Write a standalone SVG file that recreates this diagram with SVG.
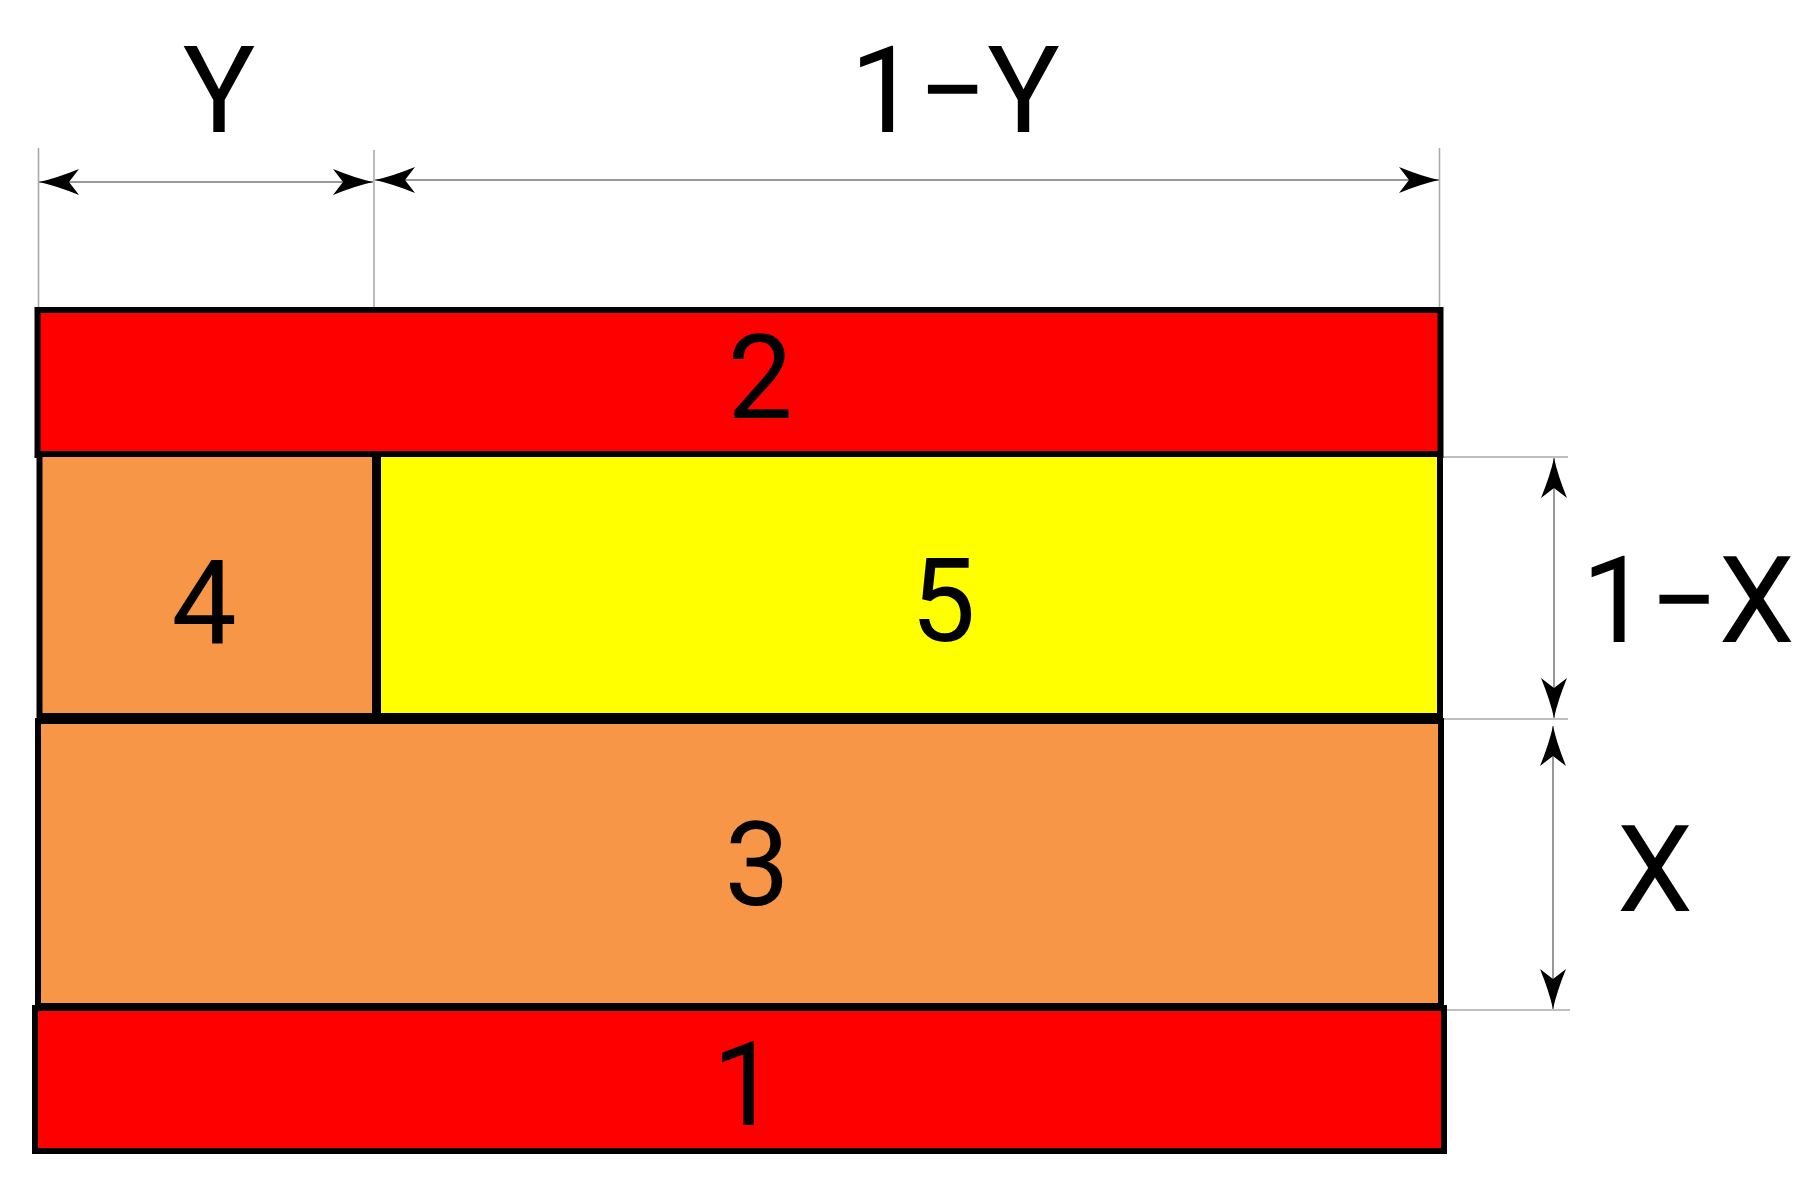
<svg xmlns="http://www.w3.org/2000/svg" width="1819" height="1193" viewBox="0 0 1819 1193">
<defs>
<style>
.blk{stroke:#000;stroke-width:6}
.red{fill:#fe0000}
.org{fill:#f79646}
.yel{fill:#ffff00}
.dim{stroke:#999;stroke-width:2;fill:none}
.ext{stroke:#aaa;stroke-width:1.6;fill:none}
.lbl{font-family:Roboto,"Liberation Sans",sans-serif;fill:#000;text-anchor:middle}
.num{font-size:116px}
.big{font-size:121px}
</style>
<marker id="ah" viewBox="0 0 40 28" refX="40" refY="14" markerWidth="40" markerHeight="28" markerUnits="userSpaceOnUse" orient="auto-start-reverse">
<path d="M0,1 Q22,10 40,14 Q22,18 0,27 L10,14 Z" fill="#000"/>
</marker>
</defs>
<rect width="1819" height="1193" fill="#fff"/>
<g id="connectors">
<line class="ext" x1="38.5" y1="148" x2="38.5" y2="308"/>
<line class="ext" x1="374" y1="150" x2="374" y2="308"/>
<line class="ext" x1="1439.5" y1="148" x2="1439.5" y2="308"/>
<line class="ext" x1="1443" y1="457" x2="1568" y2="457"/>
<line class="ext" x1="1443" y1="719" x2="1568" y2="719"/>
<line class="ext" x1="1446" y1="1010" x2="1570" y2="1010"/>
<line class="dim" x1="39" y1="182" x2="373" y2="182" marker-start="url(#ah)" marker-end="url(#ah)"/>
<line class="dim" x1="375" y1="180" x2="1439" y2="180" marker-start="url(#ah)" marker-end="url(#ah)"/>
<line class="dim" x1="1554" y1="458" x2="1554" y2="718" marker-start="url(#ah)" marker-end="url(#ah)"/>
<line class="dim" x1="1553" y1="726" x2="1553" y2="1009" marker-start="url(#ah)" marker-end="url(#ah)"/>
</g>
<g id="node-2">
<rect class="red blk" x="37.5" y="310" width="1403" height="145"/>
<text class="lbl num" x="760" y="418">2</text>
</g>
<g id="node-4">
<rect class="org blk" x="39.5" y="454" width="335.5" height="262"/>
<text class="lbl num" x="204" y="643">4</text>
</g>
<g id="node-5">
<rect class="yel blk" x="378" y="454" width="1062" height="262"/>
<text class="lbl num" x="943" y="641">5</text>
</g>
<g id="node-3">
<rect class="org blk" x="38" y="721" width="1403" height="285"/>
<text class="lbl num" x="757" y="905">3</text>
</g>
<g id="node-1">
<rect class="red blk" x="35" y="1008" width="1409" height="143"/>
<text class="lbl num" x="745" y="1125">1</text>
</g>
<g id="labels">
<text class="lbl big" x="219" y="132">Y</text>
<text class="lbl big" x="955" y="132">1−Y</text>
<text class="lbl big" x="1688" y="642">1−X</text>
<text class="lbl big" x="1655" y="911">X</text>
</g>
</svg>
